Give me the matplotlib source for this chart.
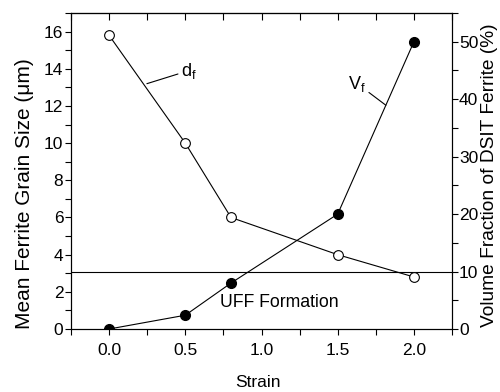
import matplotlib
matplotlib.use("Agg")
import matplotlib.pyplot as plt
from matplotlib.ticker import MultipleLocator

plt.rcParams['font.family'] = ['Liberation Sans', 'DejaVu Sans']
plt.rcParams['mathtext.fontset'] = 'custom'
plt.rcParams['mathtext.rm'] = 'Liberation Sans'
plt.rcParams['mathtext.it'] = 'Liberation Sans'

strain = [0.0, 0.5, 0.8, 1.5, 2.0]
grain_size = [15.8, 10.0, 6.0, 4.0, 2.8]
volume_fraction = [0.0, 2.4, 8.0, 20.0, 50.0]
uff_limit = 3.05

fig = plt.figure(figsize=(5.0, 3.92), dpi=100)
ax = fig.add_axes([0.142, 0.1607, 0.762, 0.806])
ax2 = ax.twinx()

ax.set_xlim(-0.25, 2.25)
ax.set_ylim(0, 17)
ax2.set_ylim(0, 55)

ax.plot(strain, grain_size, '-', color='black', lw=0.8, marker='o', ms=7,
        mfc='white', mec='black', mew=0.8, zorder=3)
ax2.plot(strain, volume_fraction, '-', color='black', lw=0.8, marker='o', ms=7,
         mfc='black', mec='black', zorder=3)
ax.axhline(uff_limit, color='black', lw=0.8)

tfs = 12.5
ax.set_xlabel('Strain', fontsize=12.5)
ax.xaxis.label.set_va('center')
ax.xaxis.set_label_coords(0.49, -0.168)
ax.set_ylabel('Mean Ferrite Grain Size (\u03bcm)', fontsize=15)
ax.yaxis.label.set_va('center')
ax.yaxis.set_label_coords(-0.121, 0.427)
ax2.set_ylabel('Volume Fraction of DSIT Ferrite (%)', fontsize=13.8)
ax2.yaxis.label.set_va('center')
ax2.yaxis.set_label_coords(1.098, 0.486)

ax.xaxis.set_major_locator(MultipleLocator(0.5))
ax.xaxis.set_minor_locator(MultipleLocator(0.25))
ax.yaxis.set_major_locator(MultipleLocator(2))
ax.yaxis.set_minor_locator(MultipleLocator(1))
ax2.yaxis.set_major_locator(MultipleLocator(10))
ax2.yaxis.set_minor_locator(MultipleLocator(5))
ax.xaxis.set_major_formatter(plt.FormatStrFormatter('%.1f'))

ax.tick_params(axis='x', which='both', direction='out', length=4, width=0.8,
               labelsize=tfs, pad=6, top=False)
ax.tick_params(axis='y', which='both', direction='out', length=4, width=0.8,
               labelsize=tfs, pad=1.5)
ax2.tick_params(axis='y', which='both', direction='out', length=4, width=0.8,
                labelsize=tfs, pad=1)
secx = ax.secondary_xaxis('top')
secx.xaxis.set_major_locator(MultipleLocator(0.25))
secx.tick_params(axis='x', which='major', direction='in', length=5, width=0.8,
                 labeltop=False)
secx.tick_params(axis='x', which='minor', length=0)

for a in (ax, ax2):
    for s in a.spines.values():
        s.set_linewidth(0.8)

ax.annotate('d$_\\mathregular{f}$', xy=(0.248, 13.2), xytext=(0.47, 13.9),
            fontsize=13, ha='left', va='center',
            arrowprops=dict(arrowstyle='-', lw=0.8, color='black', shrinkA=0, shrinkB=0))
ax.annotate('V$_\\mathregular{f}$', xy=(1.816, 12.04), xytext=(1.57, 13.2),
            fontsize=13, ha='left', va='center',
            arrowprops=dict(arrowstyle='-', lw=0.8, color='black', shrinkA=0, shrinkB=0))
ax.text(0.73, 1.4, 'UFF Formation', fontsize=12.7, ha='left', va='center')

fig.savefig('out.png', dpi=100)
